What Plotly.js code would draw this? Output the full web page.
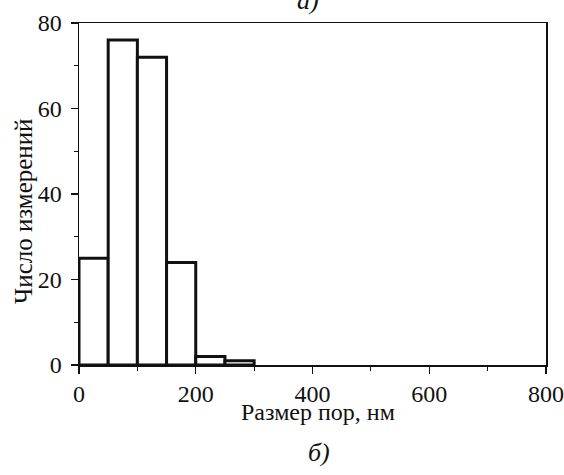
<!DOCTYPE html>
<html>
<head>
<meta charset="utf-8">
<script src="https://cdn.plot.ly/plotly-3.0.1.min.js"></script>
<style>html,body{margin:0;padding:0;background:#fff;}#chart{width:564px;height:475px;}</style>
</head>
<body>
<div id="chart"></div>
<script>
const binStarts = [0, 50, 100, 150, 200, 250];
const binWidth = 50;
const counts = [25, 76, 72, 24, 2, 1];
const xTickVals = [0, 200, 400, 600, 800];
const yTickVals = [0, 20, 40, 60, 80];
const xTitle = "Размер пор, нм";
const yTitle = "Число измерений";
const topLabel = "а)";
const bottomLabel = "б)";

const font = "Liberation Serif";

const trace = {
  type: "bar",
  x: binStarts,
  y: counts,
  width: binStarts.map(() => binWidth),
  offset: 0,
  marker: {color: "#ffffff", line: {color: "#111111", width: 3}},
  hoverinfo: "skip"
};

const axisCommon = {
  showgrid: false,
  zeroline: false,
  showline: true,
  linecolor: "#111",
  linewidth: 1.5,
  mirror: true,
  ticks: "outside",
  tickcolor: "#111",
  tickwidth: 1.2,
  ticklen: 7,
  tickfont: {family: font, size: 24, color: "#111"},
};

const layout = {
  width: 564,
  height: 475,
  margin: {l: 79, r: 18, t: 23, b: 110},
  paper_bgcolor: "#fff",
  plot_bgcolor: "#fff",
  showlegend: false,
  bargap: 0,
  xaxis: Object.assign({}, axisCommon, {
    range: [0, 800],
    tickvals: xTickVals,
    ticktext: xTickVals.map(String),
    minor: {ticks: "outside", dtick: 100, tick0: 0, ticklen: 4, tickcolor: "#111", tickwidth: 1.2},
  }),
  yaxis: Object.assign({}, axisCommon, {
    range: [0, 80],
    tickvals: yTickVals,
    ticktext: yTickVals.map(String),
    ticklabelstandoff: 4,
    minor: {ticks: "outside", dtick: 10, tick0: 0, ticklen: 4, tickcolor: "#111", tickwidth: 1.2},
  }),
  annotations: [
    {text: xTitle, xref: "paper", yref: "paper", x: 0.5, y: 0, yshift: -47, xshift: 5, showarrow: false, font: {family: font, size: 24, color: "#111"}, yanchor: "middle"},
    {text: yTitle, xref: "paper", yref: "paper", x: 0, y: 0.5, xshift: -56, yshift: -17, textangle: -90, showarrow: false, font: {family: font, size: 25, color: "#111"}, xanchor: "center", yanchor: "middle"},
    {text: "<i>" + bottomLabel + "</i>", xref: "paper", yref: "paper", x: 0.5, y: 0, yshift: -87, xshift: 6, showarrow: false, font: {family: font, size: 26, color: "#111"}, yanchor: "middle"},
    {text: "<i>" + topLabel + "</i>", xref: "paper", yref: "paper", x: 0.5, y: 1, yshift: 6, xshift: -5, showarrow: false, font: {family: font, size: 26, color: "#111"}, yanchor: "bottom"}
  ]
};

Plotly.newPlot("chart", [trace], layout, {displayModeBar: false, staticPlot: true});
</script>
</body>
</html>
